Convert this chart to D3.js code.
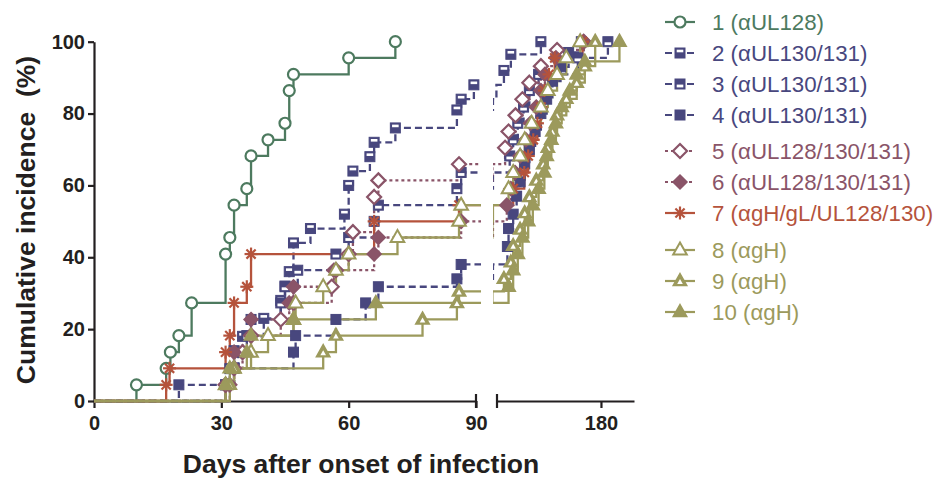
<!DOCTYPE html>
<html>
<head>
<meta charset="utf-8">
<title>Cumulative incidence</title>
<script src="https://d3js.org/d3.v7.min.js"></script>
<style>
  body { margin: 0; background: #fff; }
  svg { display: block; }
  .axis text { font-family: "Liberation Sans", Arial, sans-serif; font-weight: bold; font-size: 20px; fill: #231f20; }
  .axis path, .axis line { stroke: #231f20; stroke-width: 2.2; }
  .title { font-family: "Liberation Sans", Arial, sans-serif; font-weight: bold; font-size: 26.5px; fill: #231f20; white-space: pre; }
  .legend text { font-family: "Liberation Sans", Arial, sans-serif; font-size: 22.3px; }
</style>
</head>
<body>
<svg width="935" height="478"></svg>
<script>
// tick values
var dayTicks1 = [0, 30, 60, 90];
var dayTicks2 = [180];
var pctTicks = [0, 20, 40, 60, 80, 100];

var names = ["1 (\u03b1UL128)", "2 (\u03b1UL130/131)", "3 (\u03b1UL130/131)", "4 (\u03b1UL130/131)",
  "5 (\u03b1UL128/130/131)", "6 (\u03b1UL128/130/131)", "7 (\u03b1gH/gL/UL128/130)",
  "8 (\u03b1gH)", "9 (\u03b1gH)", "10 (\u03b1gH)"];

// [day, cumulative %] at each event
var s1 = [[10,4.5],[17,9.1],[18,13.6],[20,18.2],[23,27.3],[31,40.9],[32,45.5],[33,54.5],[36,59.1],[37,68.2],[41,72.7],[45,77.3],[46,86.4],[47,90.9],[60,95.5],[71,100]];
var s2 = [[31,4.5],[32,9],[33,14],[35,18],[40,23],[44,28],[45,32],[46,36],[47,44],[51,48],[59,52],[60,60],[61,64],[65,68],[66,72],[71,76],[85.5,81],[86.5,84],[89.5,88],[96,92],[102,96.5],[128,100]];
var s3 = [[31,4.5],[33,9.1],[34,13.6],[36,18.2],[37,22.7],[44,27.3],[45,31.8],[48,36.4],[57,40.9],[60,45.5],[66,50],[67,54.5],[85.5,59.1],[86.5,63.6],[101,68.2],[104,72.7],[108,77.3],[113,81.8],[118,86.4],[126,90.9],[160,95.5],[186,100]];
var s4 = [[20,4.5],[33,9.1],[47,13.6],[47.5,18.2],[57,22.7],[64,27.3],[67,31.8],[85.5,34],[86.5,38],[99,43],[100,48],[104,52],[107,57],[110,61],[114,66],[118,70],[123,75],[128,80],[133,84],[138,89],[145,93],[152,97],[163,100]];
var s5 = [[31,4.5],[33,9.1],[35,13.6],[37,18.2],[44,22.7],[47,27.3],[56,31.8],[57,36.4],[60,40.9],[61,47],[66,56.8],[67,61.4],[86,65.9],[97,70.5],[100,75],[106,79.5],[112,84],[118,88.6],[128,93.2],[142,97.7],[165,100]];
var s6 = [[32,4.5],[33,13.6],[37,22.7],[46,27.3],[47,31.8],[56.5,36.4],[66,40.9],[67,45.5],[86.5,50],[98.5,54.5],[102,59.1],[105.6,63.6],[110,68.2],[115,72.7],[119,77.3],[124,81.8],[128,86.4],[131.5,90.9],[141,95.5],[165,100]];
var s7 = [[17,4.5],[17.8,9.1],[31,13.6],[32,18.2],[33,27.3],[36,31.8],[37,40.9],[66,50],[86,54.5],[104,59.1],[113.6,63.6],[117,68.2],[121.4,72.7],[125,77.3],[128,81.8],[131,86.4],[135,90.9],[140,95.5],[164,100]];
var s8 = [[31,4.5],[33,9.1],[37,13.6],[41,18.2],[47,22.7],[47.5,27.3],[54,31.8],[57,36.4],[60,40.9],[71.5,45.5],[86,50],[86.5,54.5],[100,59.1],[104,63.6],[110,68.2],[114,72.7],[120,77.3],[128,81.8],[134,86.4],[142,90.9],[150,95.5],[162,100]];
var s9 = [[32,4.5],[33,9.1],[54,13.6],[57,18.2],[77.4,22.7],[85.5,27.3],[86,30.5],[96,34],[102,38.6],[104,43.2],[110,47.7],[114,52.3],[118,56.8],[124,61.4],[130,65.9],[134,70.5],[138,75],[142,79.5],[150,84.1],[159,88.6],[166,93.2],[175,100]];
var s10 = [[31,4.5],[32,9.1],[36,13.6],[37,18.2],[47,22.7],[66.4,27.3],[100,31.8],[104,36.4],[108,40.9],[112,45.5],[117,50],[121,54.5],[126,59.1],[131,63.6],[133,68.2],[137,72.7],[141,77.3],[146,81.8],[153,86.4],[159,90.9],[166,94.5],[196,100]];

var series = [s1, s2, s3, s4, s5, s6, s7, s8, s9, s10];

// styles
var green = "#4d7a5f", navy = "#48477e", mauve = "#8a5468", red = "#b5533c", olive = "#9c9a5c";
var colors = [green, navy, navy, navy, mauve, mauve, red, olive, olive, olive];
var dashes = [null, "7,4", "7,4", "7,4", "3,3", "3,3", null, null, null, null];
var marks = ["circle", "sqTop", "sqBot", "sqFill", "dia", "diaFill", "ast", "triOpen", "triHalf", "triFill"];

var svg = d3.select("svg");

var y = d3.scaleLinear().domain([0, 100]).range([401, 41.7]);
var x1 = d3.scaleLinear().domain([0, 90]).range([94, 476]);
var x2 = d3.scaleLinear().domain([90, 208.6]).range([497, 634]);

var defs = svg.append("defs");
defs.append("clipPath").attr("id", "c1").append("rect")
  .attr("x", 86).attr("y", 25).attr("width", 481 - 86).attr("height", 390);
defs.append("clipPath").attr("id", "c2").append("rect")
  .attr("x", 493).attr("y", 25).attr("width", 150).attr("height", 390);

// axes
svg.append("g").attr("class", "axis")
  .attr("transform", "translate(94,0)")
  .call(d3.axisLeft(y).tickValues(pctTicks).tickSize(6).tickSizeOuter(0).tickPadding(3));

var ax1 = svg.append("g").attr("class", "axis")
  .attr("transform", "translate(0,401)")
  .call(d3.axisBottom(x1).tickValues(dayTicks1).tickSize(7).tickSizeOuter(0).tickPadding(8));
var ax2 = svg.append("g").attr("class", "axis")
  .attr("transform", "translate(0,401)")
  .call(d3.axisBottom(x2).tickValues(dayTicks2).tickSize(7).tickSizeOuter(0).tickPadding(8));

// break caps
ax1.append("line").attr("x1", x1(90)).attr("x2", x1(90)).attr("y1", -7).attr("y2", 7);
ax2.append("line").attr("x1", x2(90)).attr("x2", x2(90)).attr("y1", -7).attr("y2", 7);

svg.append("text").attr("class", "title")
  .attr("x", 361).attr("y", 473).attr("text-anchor", "middle")
  .text("Days after onset of infection");
svg.append("text").attr("class", "title")
  .attr("transform", "translate(35,220) rotate(-90)").attr("text-anchor", "middle")
  .text("Cumulative incidence  (%)");

function stepPoints(d) {
  var pts = [[0, 0]], prev = 0;
  d.forEach(function (e) {
    pts.push([e[0], prev]);
    pts.push([e[0], e[1]]);
    prev = e[1];
  });
  return pts;
}

function drawMark(g, type, c) {
  var tri = "M0,-7.5L6.8,4.5H-6.8Z";
  var dia = "M0,-7L7,0L0,7L-7,0Z";
  switch (type) {
    case "circle":
      g.append("circle").attr("r", 5.5).attr("fill", "#fff").attr("stroke", c).attr("stroke-width", 2.2);
      break;
    case "sqTop":
    case "sqBot":
    case "sqFill":
      g.append("rect").attr("x", -5).attr("y", -5).attr("width", 10).attr("height", 10)
        .attr("fill", c).attr("stroke", c).attr("stroke-width", 1);
      if (type == "sqTop")
        g.append("rect").attr("x", -3.3).attr("y", -3.3).attr("width", 6.6).attr("height", 2.6).attr("fill", "#fff");
      if (type == "sqBot")
        g.append("rect").attr("x", -3.3).attr("y", 0.6).attr("width", 6.6).attr("height", 2.8).attr("fill", "#fff");
      break;
    case "dia":
      g.append("path").attr("d", dia).attr("fill", "#fff").attr("stroke", c).attr("stroke-width", 2.2);
      break;
    case "diaFill":
      g.append("path").attr("d", dia).attr("fill", c).attr("stroke", c).attr("stroke-width", 1.5);
      break;
    case "ast":
      [0, 45, 90, 135].forEach(function (a) {
        g.append("line").attr("x1", -6.5).attr("x2", 6.5).attr("y1", 0).attr("y2", 0)
          .attr("transform", "rotate(" + a + ")")
          .attr("stroke", c).attr("stroke-width", 2.2);
      });
      break;
    case "triOpen":
      g.append("path").attr("d", tri).attr("fill", "#fff").attr("stroke", c).attr("stroke-width", 2);
      break;
    case "triHalf":
      g.append("path").attr("d", tri).attr("fill", c).attr("stroke", c).attr("stroke-width", 1.5);
      g.append("path").attr("d", "M0,-2L2.8,3H-2.8Z").attr("fill", "#fff");
      break;
    case "triFill":
      g.append("path").attr("d", tri).attr("fill", c).attr("stroke", c).attr("stroke-width", 1.5);
      break;
  }
}

function drawPanel(xs, clip, lo, hi) {
  var panel = svg.append("g").attr("clip-path", "url(#" + clip + ")");
  var line = d3.line().x(function (d) { return xs(d[0]); }).y(function (d) { return y(d[1]); });
  series.forEach(function (d, i) {
    panel.append("path")
      .attr("d", line(stepPoints(d)))
      .attr("fill", "none")
      .attr("stroke", colors[i])
      .attr("stroke-width", 2.3)
      .attr("stroke-dasharray", dashes[i]);
  });
  series.forEach(function (d, i) {
    panel.selectAll(null)
      .data(d.filter(function (e) { return e[0] >= lo && e[0] <= hi; }))
      .enter().append("g")
      .attr("transform", function (e) { return "translate(" + xs(e[0]) + "," + y(e[1]) + ")"; })
      .each(function () { drawMark(d3.select(this), marks[i], colors[i]); });
  });
}

drawPanel(x1, "c1", 0, 91);
drawPanel(x2, "c2", 90, 210);

// legend
var legend = svg.append("g").attr("class", "legend")
  .selectAll("g")
  .data(names)
  .enter().append("g")
  .attr("transform", function (d, i) {
    return "translate(0," + (22 + i * 31 + (i >= 4 ? 5 : 0) + (i >= 7 ? 6 : 0)) + ")";
  });

legend.append("line")
  .attr("x1", 665).attr("x2", 695)
  .attr("stroke", function (d, i) { return colors[i]; })
  .attr("stroke-width", 2.2)
  .attr("stroke-dasharray", function (d, i) { return dashes[i]; });

legend.append("g")
  .attr("transform", "translate(680,0)")
  .each(function (d, i) { drawMark(d3.select(this), marks[i], colors[i]); });

legend.append("text")
  .attr("x", 712).attr("y", 0).attr("dy", "0.36em")
  .attr("fill", function (d, i) { return colors[i]; })
  .text(function (d) { return d; });
</script>
</body>
</html>
